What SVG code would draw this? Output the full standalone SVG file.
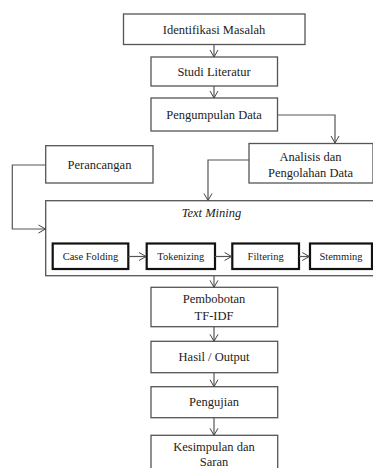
<svg xmlns="http://www.w3.org/2000/svg" width="373" height="468" viewBox="0 0 373 468">
<defs>
<marker id="ah" markerWidth="10" markerHeight="10" refX="8" refY="5" orient="auto" markerUnits="userSpaceOnUse">
<path d="M1,1 L8,5 L1,9" fill="none" stroke="#444" stroke-width="1"/>
</marker>
<style>
.box{fill:#fff;stroke:#555;stroke-width:1.3}
.tbox{fill:#fff;stroke:#111;stroke-width:2.2}
.t{font-family:"Liberation Serif","Times New Roman",serif;font-size:12.5px;fill:#222;text-anchor:middle}
.s{font-family:"Liberation Serif","Times New Roman",serif;font-size:10.5px;fill:#222;text-anchor:middle}
.c{fill:none;stroke:#555;stroke-width:1.2;marker-end:url(#ah)}
</style>
</defs>
<rect width="373" height="468" fill="#fff"/>
<g id="identifikasi"><rect class="box" x="123.5" y="14" width="181.5" height="30.5"/><text class="t" x="214" y="34">Identifikasi Masalah</text></g>
<g id="studi"><rect class="box" x="151" y="57" width="126.5" height="29"/><text class="t" x="214" y="75.5">Studi Literatur</text></g>
<g id="pengumpulan"><rect class="box" x="151" y="98" width="126.5" height="33"/><text class="t" x="214" y="119">Pengumpulan Data</text></g>
<g id="perancangan"><rect class="box" x="45.7" y="145.7" width="107.3" height="37.3"/><text class="t" x="99.5" y="169">Perancangan</text></g>
<g id="analisis"><rect class="box" x="249" y="143.5" width="124" height="39.5"/><text class="t" x="310.5" y="160.5">Analisis dan</text><text class="t" x="310.5" y="177">Pengolahan Data</text></g>
<g id="textmining"><rect class="box" x="45.7" y="200.7" width="328" height="75"/><text class="t" x="211.5" y="217" font-style="italic">Text Mining</text></g>
<g id="casefolding"><rect class="tbox" x="52.7" y="243.5" width="75.6" height="25.5"/><text class="s" x="90.5" y="260">Case Folding</text></g>
<g id="tokenizing"><rect class="tbox" x="146.7" y="243.5" width="68.3" height="25.5"/><text class="s" x="180.8" y="260">Tokenizing</text></g>
<g id="filtering"><rect class="tbox" x="232.3" y="243.5" width="66.7" height="25.5"/><text class="s" x="265.7" y="260">Filtering</text></g>
<g id="stemming"><rect class="tbox" x="310" y="243.5" width="62" height="25.5"/><text class="s" x="341" y="260">Stemming</text></g>
<g id="pembobotan"><rect class="box" x="151" y="287.3" width="126.7" height="39.4"/><text class="t" x="214" y="303">Pembobotan</text><text class="t" x="214" y="320">TF-IDF</text></g>
<g id="hasil"><rect class="box" x="151" y="341.3" width="126.7" height="31.4"/><text class="t" x="214" y="361">Hasil / Output</text></g>
<g id="pengujian"><rect class="box" x="151" y="386.7" width="126.7" height="31"/><text class="t" x="214" y="406">Pengujian</text></g>
<g id="kesimpulan"><rect class="box" x="151" y="435.3" width="126.7" height="40"/><text class="t" x="214" y="450.5">Kesimpulan dan</text><text class="t" x="214" y="465.5">Saran</text></g>
<g id="connectors">
<path class="c" d="M214,44.5 V57"/>
<path class="c" d="M214,86 V98"/>
<path class="c" d="M277.5,115 H335 V143"/>
<path class="c" d="M249,160 H208 V200.5"/>
<path class="c" d="M45.7,165 H12.3 V229 H45.5"/>
<path class="c" d="M128.3,256.5 H146"/>
<path class="c" d="M215,256.5 H231.6"/>
<path class="c" d="M299,256.5 H309.3"/>
<path class="c" d="M214,276 V287.3"/>
<path class="c" d="M214,326.7 V341.3"/>
<path class="c" d="M214,372.7 V386.7"/>
<path class="c" d="M214,417.7 V435.3"/>
</g>
</svg>
